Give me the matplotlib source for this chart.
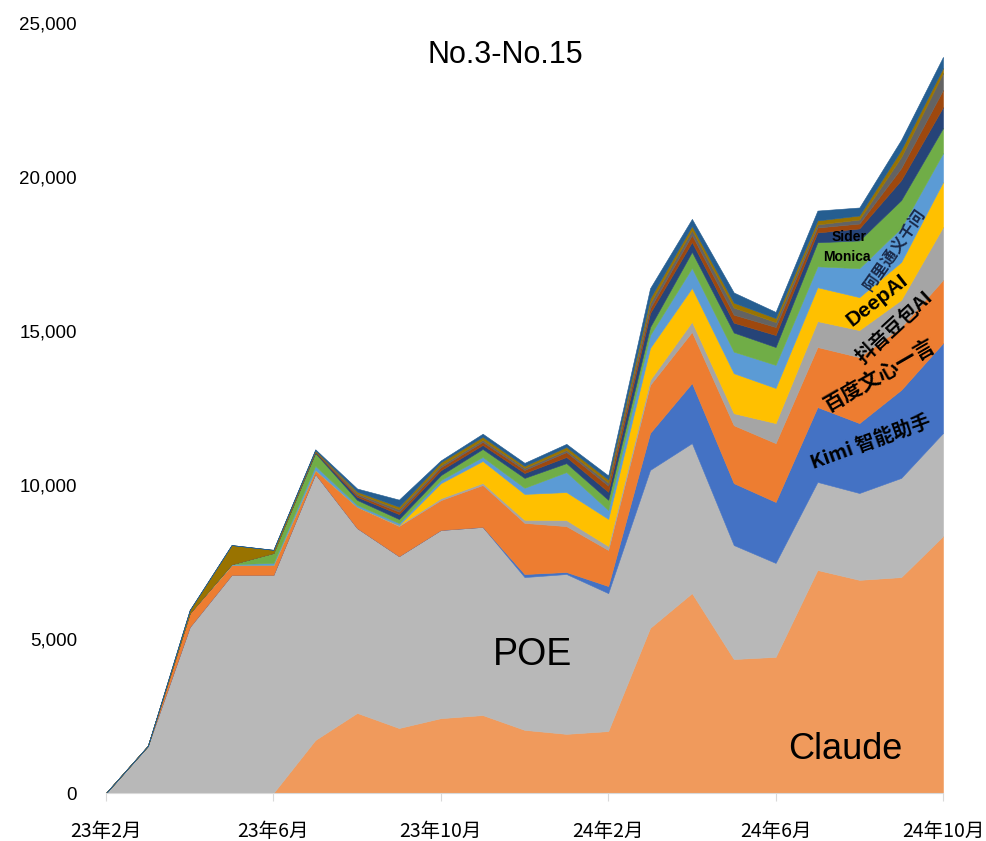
import matplotlib
matplotlib.use("Agg")
import matplotlib.pyplot as plt
import numpy as np

plt.rcParams['font.family'] = ['Noto Sans CJK SC', 'DejaVu Sans']

# months 23年2月 .. 24年10月
months = list(range(21))
tick_pos = [0, 4, 8, 12, 16, 20]
tick_labels = ['23年2月', '23年6月', '23年10月', '24年2月', '24年6月', '24年10月']

claude = [0, 0, 0, 0, 0, 1720, 2600, 2110, 2430, 2530, 2050, 1920, 2010, 5360, 6490, 4350, 4420, 7240, 6920, 7010, 8340]
poe = [0, 1530, 5390, 7080, 7080, 8640, 6000, 5580, 6110, 6110, 4960, 5190, 4480, 5130, 4870, 3700, 3050, 2860, 2820, 3220, 3350]
kimi = [0, 0, 0, 0, 0, 0, 0, 0, 0, 0, 100, 65, 230, 1200, 1950, 2010, 1980, 2430, 2270, 2860, 2920]
wenxin = [0, 0, 450, 320, 325, 130, 690, 980, 970, 1360, 1660, 1490, 1170, 1560, 1660, 1880, 1910, 1950, 2140, 2040, 2050]
doubao = [0, 0, 0, 0, 0, 0, 0, 30, 60, 65, 100, 195, 130, 160, 330, 390, 650, 840, 880, 880, 1720]
deepai = [0, 0, 0, 0, 0, 0, 0, 0, 490, 715, 840, 910, 880, 1040, 1100, 1300, 1140, 1100, 1070, 1230, 1460]
tongyi = [0, 0, 0, 30, 65, 130, 65, 65, 100, 130, 200, 650, 290, 420, 650, 700, 750, 680, 940, 1110, 940]
monica = [0, 0, 0, 0, 325, 420, 160, 130, 160, 260, 320, 290, 330, 260, 520, 620, 580, 780, 900, 900, 810]
sider = [0, 0, 0, 0, 0, 30, 100, 160, 160, 130, 160, 200, 260, 450, 320, 320, 390, 320, 390, 650, 680]
other12 = [0, 0, 0, 0, 0, 20, 60, 80, 100, 100, 100, 160, 200, 160, 230, 260, 260, 160, 160, 390, 560]
other13 = [0, 0, 0, 0, 0, 20, 50, 80, 60, 65, 65, 65, 100, 160, 160, 230, 160, 100, 130, 360, 550]
other14 = [0, 0, 100, 620, 100, 20, 60, 80, 100, 100, 65, 100, 100, 160, 130, 160, 130, 130, 130, 230, 160]
other15 = [0, 0, 0, 0, 0, 30, 100, 230, 60, 100, 100, 100, 130, 330, 230, 330, 200, 320, 260, 330, 360]

series = [claude, poe, kimi, wenxin, doubao, deepai, tongyi, monica, sider,
          other12, other13, other14, other15]
colors = ['#F09A5C', '#B8B8B8', '#4472C4', '#ED7D31', '#A5A5A5', '#FFC000',
          '#5B9BD5', '#70AD47', '#264478', '#9E480E', '#636363', '#997300', '#255E91']

fig = plt.figure(figsize=(9.86, 8.41), dpi=100)
ax = fig.add_axes([106/986, 1 - 793/841, (943-106)/986, (793-23)/841])

polys = ax.stackplot(months, *series, colors=colors, linewidth=0.4)
for p, c in zip(polys, colors):
    p.set_edgecolor(c)

ax.set_xlim(0, 20)
ax.set_ylim(0, 25000)
ax.set_yticks([0, 5000, 10000, 15000, 20000, 25000])
ax.set_yticklabels(['0', '5,000', '10,000', '15,000', '20,000', '25,000'],
                   family='Liberation Sans', fontsize=13.5)
ax.set_xticks(tick_pos)
ax.set_xticklabels(tick_labels, fontsize=14)
ax.tick_params(axis='y', length=0, pad=21)
ax.tick_params(axis='x', length=6, color='#D9D9D9', pad=14)
for s in ['top', 'right', 'left']:
    ax.spines[s].set_visible(False)
ax.spines['bottom'].set_color('#D9D9D9')

fig.text(505/986, 1 - 55/841, 'No.3-No.15', ha='center', va='center',
         fontsize=22, family='Liberation Sans')

ax.text(10.2, 4480, 'POE', ha='center', va='center', fontsize=27, family='Liberation Sans')
ax.text(17.66, 1400, 'Claude', ha='center', va='center', fontsize=26, family='Liberation Sans')
ax.text(18.26, 11400, 'Kimi 智能助手', ha='center', va='center', fontsize=14, rotation=20,
        fontweight='bold')
ax.text(18.5, 13570, '百度文心一言', ha='center', va='center', fontsize=15, rotation=30,
        fontweight='bold')
ax.text(18.85, 15130, '抖音豆包AI', ha='center', va='center', fontsize=14, rotation=43,
        fontweight='bold')
ax.text(18.42, 16000, 'DeepAI', ha='center', va='center', fontsize=15, rotation=38,
        fontweight='bold', family='Liberation Sans')
ax.text(18.85, 17630, '阿里通义千问', ha='center', va='center', fontsize=11.5, rotation=55,
        color='#1a2a4a', fontweight='bold')
ax.text(17.7, 17400, 'Monica', ha='center', va='center', fontsize=10, fontweight='bold',
        family='Liberation Sans')
ax.text(17.75, 18050, 'Sider', ha='center', va='center', fontsize=10, fontweight='bold',
        family='Liberation Sans')

fig.savefig('out.png', dpi=100)
